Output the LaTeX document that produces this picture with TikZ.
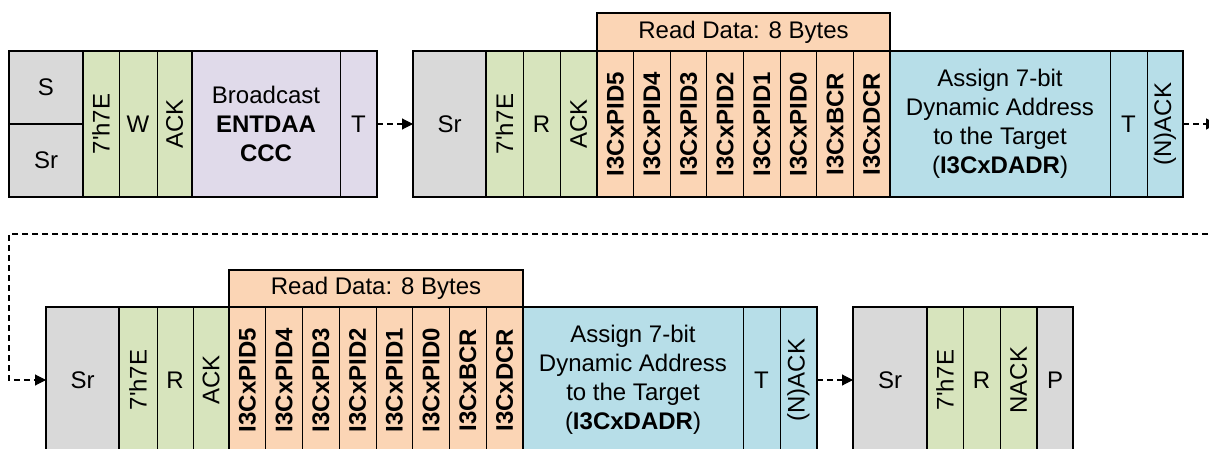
\documentclass[tikz,border=0pt]{standalone}
\usepackage{fontspec}
\setmainfont{Liberation Sans}
\usetikzlibrary{arrows.meta,fit}
\definecolor{cgray}{HTML}{D9D9D9}
\definecolor{cgreen}{HTML}{D7E4BD}
\definecolor{cpurp}{HTML}{E0DAEA}
\definecolor{cpeach}{HTML}{FBD5B5}
\definecolor{cblue}{HTML}{B7DEE8}
\newcommand\mkc[7]{\node[cell,fill=#6,fit={(#2,#4) (#3,#5)},label={[align=center]center:#7}] (#1) {};}
\newcommand\mkr[7]{\node[cell,fill=#6,fit={(#2,#4) (#3,#5)},label={[rotate=90]center:#7}] (#1) {};}
\begin{document}
\begin{tikzpicture}[x=1pt,y=-1pt,
  font=\fontsize{24}{29}\selectfont,
  cell/.style={draw, line width=0.9pt, inner sep=0pt, outer sep=0pt, align=center},
  grp/.style={draw, line width=2.4pt, line join=miter},
  conn/.style={dash pattern=on 6pt off 4pt, line width=1.1pt, -{Triangle[length=11pt,width=11pt]}}]
\useasboundingbox (0,0) rectangle (1209,449);
\clip (0,0) rectangle (1209,449);
% ---------- top row, group 1
\mkc{s1}{9}{83}{51}{124}{cgray}{S}
\mkc{sr1}{9}{83}{124}{197}{cgray}{Sr}
\mkr{a1}{83}{119}{51}{197}{cgreen}{7\textquotesingle h7E}
\mkc{w1}{119}{157}{51}{197}{cgreen}{W}
\mkr{ack1}{157}{192}{51}{197}{cgreen}{ACK}
\mkc{bc1}{192}{340}{51}{197}{cpurp}{Broadcast\\\textbf{ENTDAA}\\\textbf{CCC}}
\mkc{t1}{340}{377}{51}{197}{cpurp}{T}
\draw[grp] (s1.north west) rectangle (t1.south east);
\draw[grp] (s1.south west) -- (s1.south east);
\draw[grp] (s1.north east) -- (sr1.south east);
\draw[grp] (ack1.north east) -- (ack1.south east);
% ---------- top row, group 2
\mkc{sr2}{413}{486}{51}{197}{cgray}{Sr}
\mkr{a2}{486}{523}{51}{197}{cgreen}{7\textquotesingle h7E}
\mkc{r2}{523}{560}{51}{197}{cgreen}{R}
\mkr{ack2}{560}{597}{51}{197}{cgreen}{ACK}
\mkc{hd2}{597}{890}{13}{51}{cpeach}{Read Data: 8 Bytes}
\foreach \lab [count=\i from 0] in {I3CxPID5,I3CxPID4,I3CxPID3,I3CxPID2,I3CxPID1,I3CxPID0,I3CxBCR,I3CxDCR}{
  \pgfmathsetmacro\xa{597+\i*36.625}
  \pgfmathsetmacro\xb{597+(\i+1)*36.625}
  \node[cell,fill=cpeach,fit={(\xa,51) (\xb,197)},label={[rotate=90]center:\textbf{\lab}}] (p2-\i) {};
}
\mkc{as2}{890}{1110}{51}{197}{cblue}{Assign 7-bit\\Dynamic Address\\to the Target\\(\textbf{I3CxDADR})}
\mkc{t2}{1110}{1147}{51}{197}{cblue}{T}
\mkr{n2}{1147}{1183}{51}{197}{cblue}{(N)ACK}
\draw[grp] (sr2.north west) rectangle (n2.south east);
\draw[grp] (hd2.north west) rectangle (hd2.south east);
\draw[grp] (sr2.north east) -- (sr2.south east);
\draw[grp] (ack2.north east) -- (ack2.south east);
\draw[grp] (p2-7.north east) -- (p2-7.south east);
% ---------- bottom row, group 3
\mkc{sr3}{46}{119}{307}{453}{cgray}{Sr}
\mkr{a3}{119}{157}{307}{453}{cgreen}{7\textquotesingle h7E}
\mkc{r3}{157}{193}{307}{453}{cgreen}{R}
\mkr{ack3}{193}{229}{307}{453}{cgreen}{ACK}
\mkc{hd3}{229}{523}{270}{307}{cpeach}{Read Data: 8 Bytes}
\foreach \lab [count=\i from 0] in {I3CxPID5,I3CxPID4,I3CxPID3,I3CxPID2,I3CxPID1,I3CxPID0,I3CxBCR,I3CxDCR}{
  \pgfmathsetmacro\xa{229+\i*36.75}
  \pgfmathsetmacro\xb{229+(\i+1)*36.75}
  \node[cell,fill=cpeach,fit={(\xa,307) (\xb,453)},label={[rotate=90]center:\textbf{\lab}}] (p3-\i) {};
}
\mkc{as3}{523}{743}{307}{453}{cblue}{Assign 7-bit\\Dynamic Address\\to the Target\\(\textbf{I3CxDADR})}
\mkc{t3}{743}{780}{307}{453}{cblue}{T}
\mkr{n3}{780}{817}{307}{453}{cblue}{(N)ACK}
\draw[grp] (sr3.north west) rectangle (n3.south east);
\draw[grp] (hd3.north west) rectangle (hd3.south east);
\draw[grp] (sr3.north east) -- (sr3.south east);
\draw[grp] (ack3.north east) -- (ack3.south east);
\draw[grp] (p3-7.north east) -- (p3-7.south east);
% ---------- bottom row, group 4
\mkc{sr4}{853}{927}{307}{453}{cgray}{Sr}
\mkr{a4}{927}{963}{307}{453}{cgreen}{7\textquotesingle h7E}
\mkc{r4}{963}{1000}{307}{453}{cgreen}{R}
\mkr{nk4}{1000}{1037}{307}{453}{cgreen}{NACK}
\mkc{p4}{1037}{1073}{307}{453}{cgray}{P}
\draw[grp] (sr4.north west) rectangle (p4.south east);
\draw[grp] (sr4.north east) -- (sr4.south east);
\draw[grp] (nk4.north east) -- (nk4.south east);
% ---------- connectors
\coordinate (eR) at (1217,124);
\coordinate (c1) at (1208,234);
\coordinate (c2) at (9,234);
\draw[conn] (t1.east) -- (sr2.west);
\draw[conn] (n2.east) -- (eR);
\draw[conn] (c1) -- (c2) |- (sr3.west);
\draw[conn] (n3.east) -- (sr4.west);
\end{tikzpicture}
\end{document}
